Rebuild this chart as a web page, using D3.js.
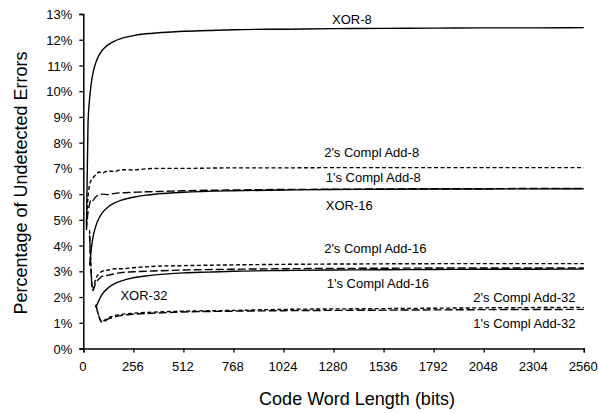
<!DOCTYPE html>
<html>
<head>
<meta charset="utf-8">
<script src="https://cdn.jsdelivr.net/npm/d3@7"></script>
<style>
  html, body { margin: 0; padding: 0; background: #fff; }
  svg { display: block; }
  text { font-family: "Liberation Sans", Arial, sans-serif; fill: #000; }
</style>
</head>
<body>
<div id="chart"></div>
<script>
// Code word lengths (bits) for each checksum series
const lenXor8  = [16, 24, 32, 40, 48, 56, 64, 80, 96, 112, 128, 160, 192, 224, 256, 320, 384, 448, 512, 640, 768, 1024, 1280, 1536, 1792, 2048, 2304, 2560];
const valXor8  = [4.7, 8.70, 9.68, 10.26, 10.64, 10.91, 11.11, 11.39, 11.58, 11.71, 11.81, 11.95, 12.04, 12.11, 12.16, 12.23, 12.27, 12.30, 12.33, 12.36, 12.39, 12.41, 12.43, 12.44, 12.45, 12.46, 12.46, 12.47];

const lenAdd8  = [16, 24, 32, 40, 48, 64, 80, 96, 128, 160, 192, 256, 320, 384, 512, 768, 1024, 1280, 1536, 1792, 2048, 2304, 2560];
const valAdd8Two = [4.9, 5.9, 6.35, 6.55, 6.62, 6.75, 6.86, 6.82, 6.90, 6.88, 6.95, 6.94, 6.98, 7.00, 7.00, 7.02, 7.02, 7.03, 7.03, 7.03, 7.03, 7.03, 7.03];
const valAdd8One = [4.6, 5.3, 5.6, 5.8, 5.75, 5.9, 5.96, 6.0, 5.98, 6.03, 6.05, 6.07, 6.09, 6.10, 6.13, 6.16, 6.18, 6.19, 6.20, 6.21, 6.21, 6.22, 6.22];

const lenXor16 = [32, 48, 64, 80, 96, 128, 160, 192, 256, 320, 384, 512, 768, 1024, 1280, 1536, 2048, 2560];
const valXor16 = [3.23, 4.26, 4.76, 5.06, 5.26, 5.51, 5.66, 5.76, 5.88, 5.96, 6.01, 6.07, 6.13, 6.16, 6.18, 6.19, 6.20, 6.21];

const lenAdd16 = [32, 48, 64, 80, 96, 128, 160, 192, 256, 384, 512, 768, 1024, 1536, 2048, 2560];
const valAdd16Two = [4.6, 2.3, 2.72, 2.9, 3.0, 3.05, 3.1, 3.1, 3.14, 3.2, 3.22, 3.25, 3.27, 3.29, 3.3, 3.3];
const valAdd16One = [4.4, 2.25, 2.55, 2.7, 2.8, 2.85, 2.9, 2.95, 2.98, 3.02, 3.05, 3.08, 3.1, 3.12, 3.13, 3.13];

const lenXor32 = [64, 96, 128, 160, 192, 256, 320, 384, 512, 640, 768, 1024, 1280, 1536, 1792, 2048, 2304, 2560];
const valXor32 = [1.59, 2.1, 2.36, 2.52, 2.62, 2.75, 2.82, 2.87, 2.94, 2.97, 3.0, 3.03, 3.05, 3.06, 3.07, 3.08, 3.08, 3.09];

const lenAdd32 = [64, 96, 128, 192, 256, 384, 512, 768, 1024, 1536, 2048, 2560];
const valAdd32Two = [1.7, 1.05, 1.2, 1.32, 1.37, 1.42, 1.45, 1.48, 1.52, 1.55, 1.58, 1.6];
const valAdd32One = [1.7, 1.02, 1.15, 1.28, 1.33, 1.38, 1.42, 1.45, 1.47, 1.49, 1.51, 1.52];

const xTicks = [0, 256, 512, 768, 1024, 1280, 1536, 1792, 2048, 2304, 2560];
const yTicks = [0, 1, 2, 3, 4, 5, 6, 7, 8, 9, 10, 11, 12, 13];

// Series: name, lengths, values, dash style
const series = [
  { name: "XOR-8",           len: lenXor8,  val: valXor8,     dash: null },
  { name: "2's Compl Add-8", len: lenAdd8,  val: valAdd8Two,  dash: "4,2.5" },
  { name: "1's Compl Add-8", len: lenAdd8,  val: valAdd8One,  dash: "8,3" },
  { name: "XOR-16",          len: lenXor16, val: valXor16,    dash: null },
  { name: "2's Compl Add-16",len: lenAdd16, val: valAdd16Two, dash: "4,2.5" },
  { name: "1's Compl Add-16",len: lenAdd16, val: valAdd16One, dash: "8,3" },
  { name: "XOR-32",          len: lenXor32, val: valXor32,    dash: null },
  { name: "2's Compl Add-32",len: lenAdd32, val: valAdd32Two, dash: "4,2.5" },
  { name: "1's Compl Add-32",len: lenAdd32, val: valAdd32One, dash: "8,3" }
];

// Curve label anchors (in data units: bits, percent)
const labels = [
  { text: "XOR-8",            x: 1272, y: 12.63 },
  { text: "2's Compl Add-8",  x: 1232, y: 7.45 },
  { text: "1's Compl Add-8",  x: 1240, y: 6.47 },
  { text: "XOR-16",           x: 1240, y: 5.38 },
  { text: "2's Compl Add-16", x: 1232, y: 3.7 },
  { text: "1's Compl Add-16", x: 1245, y: 2.35 },
  { text: "XOR-32",           x: 190,  y: 1.87 },
  { text: "2's Compl Add-32", x: 1995, y: 1.8 },
  { text: "1's Compl Add-32", x: 1995, y: 0.8 }
];

const W = 598, H = 413;
const svg = d3.select("#chart").append("svg").attr("width", W).attr("height", H);

const x = d3.scaleLinear().domain([0, 2560]).range([83.3, 583.8]);
const y = d3.scaleLinear().domain([0, 13]).range([348.5, 14]);

// Axes
const xAxis = d3.axisBottom(x).tickValues(xTicks).tickSize(4).tickFormat(d3.format("d"));
const yAxis = d3.axisLeft(y).tickValues(yTicks).tickSize(4).tickFormat(d => d + "%");

const gx = svg.append("g").attr("transform", `translate(0,${y(0)})`).call(xAxis);
gx.select(".domain").attr("stroke", "#000").attr("stroke-width", 1.5);
gx.selectAll(".tick line").attr("stroke", "#000").attr("stroke-width", 1.3);
gx.selectAll(".tick text")
  .attr("font-size", 13).attr("dy", 0).attr("y", 22.5).attr("x", -1)
  .style("font-family", "'Liberation Sans', Arial, sans-serif").attr("fill", "#000");

const gy = svg.append("g").attr("transform", `translate(${x(0)},0)`).call(yAxis);
gy.select(".domain").attr("stroke", "#000").attr("stroke-width", 1.5);
gy.selectAll(".tick line").attr("stroke", "#000").attr("stroke-width", 1.3);
gy.selectAll(".tick text")
  .attr("font-size", 13).attr("x", -11).attr("dy", "0.35em")
  .style("font-family", "'Liberation Sans', Arial, sans-serif").attr("fill", "#000");

// Series lines
const line = d3.line()
  .x(d => x(d[0]))
  .y(d => y(d[1]))
  .curve(d3.curveMonotoneX);

svg.append("g").selectAll("path")
  .data(series)
  .join("path")
  .attr("d", s => line(s.len.map((l, i) => [l, s.val[i]])))
  .attr("fill", "none")
  .attr("stroke", "#000")
  .attr("stroke-width", 1.4)
  .attr("stroke-dasharray", s => s.dash);

// Curve labels
svg.append("g").selectAll("text")
  .data(labels)
  .join("text")
  .attr("x", d => x(d.x))
  .attr("y", d => y(d.y))
  .attr("font-size", 13)
  .text(d => d.text);

// Axis titles
svg.append("text")
  .attr("x", 357).attr("y", 405)
  .attr("text-anchor", "middle")
  .attr("font-size", 18)
  .text("Code Word Length (bits)");

svg.append("text")
  .attr("transform", "translate(27,183) rotate(-90)")
  .attr("text-anchor", "middle")
  .attr("font-size", 18)
  .text("Percentage of Undetected Errors");
</script>
</body>
</html>
